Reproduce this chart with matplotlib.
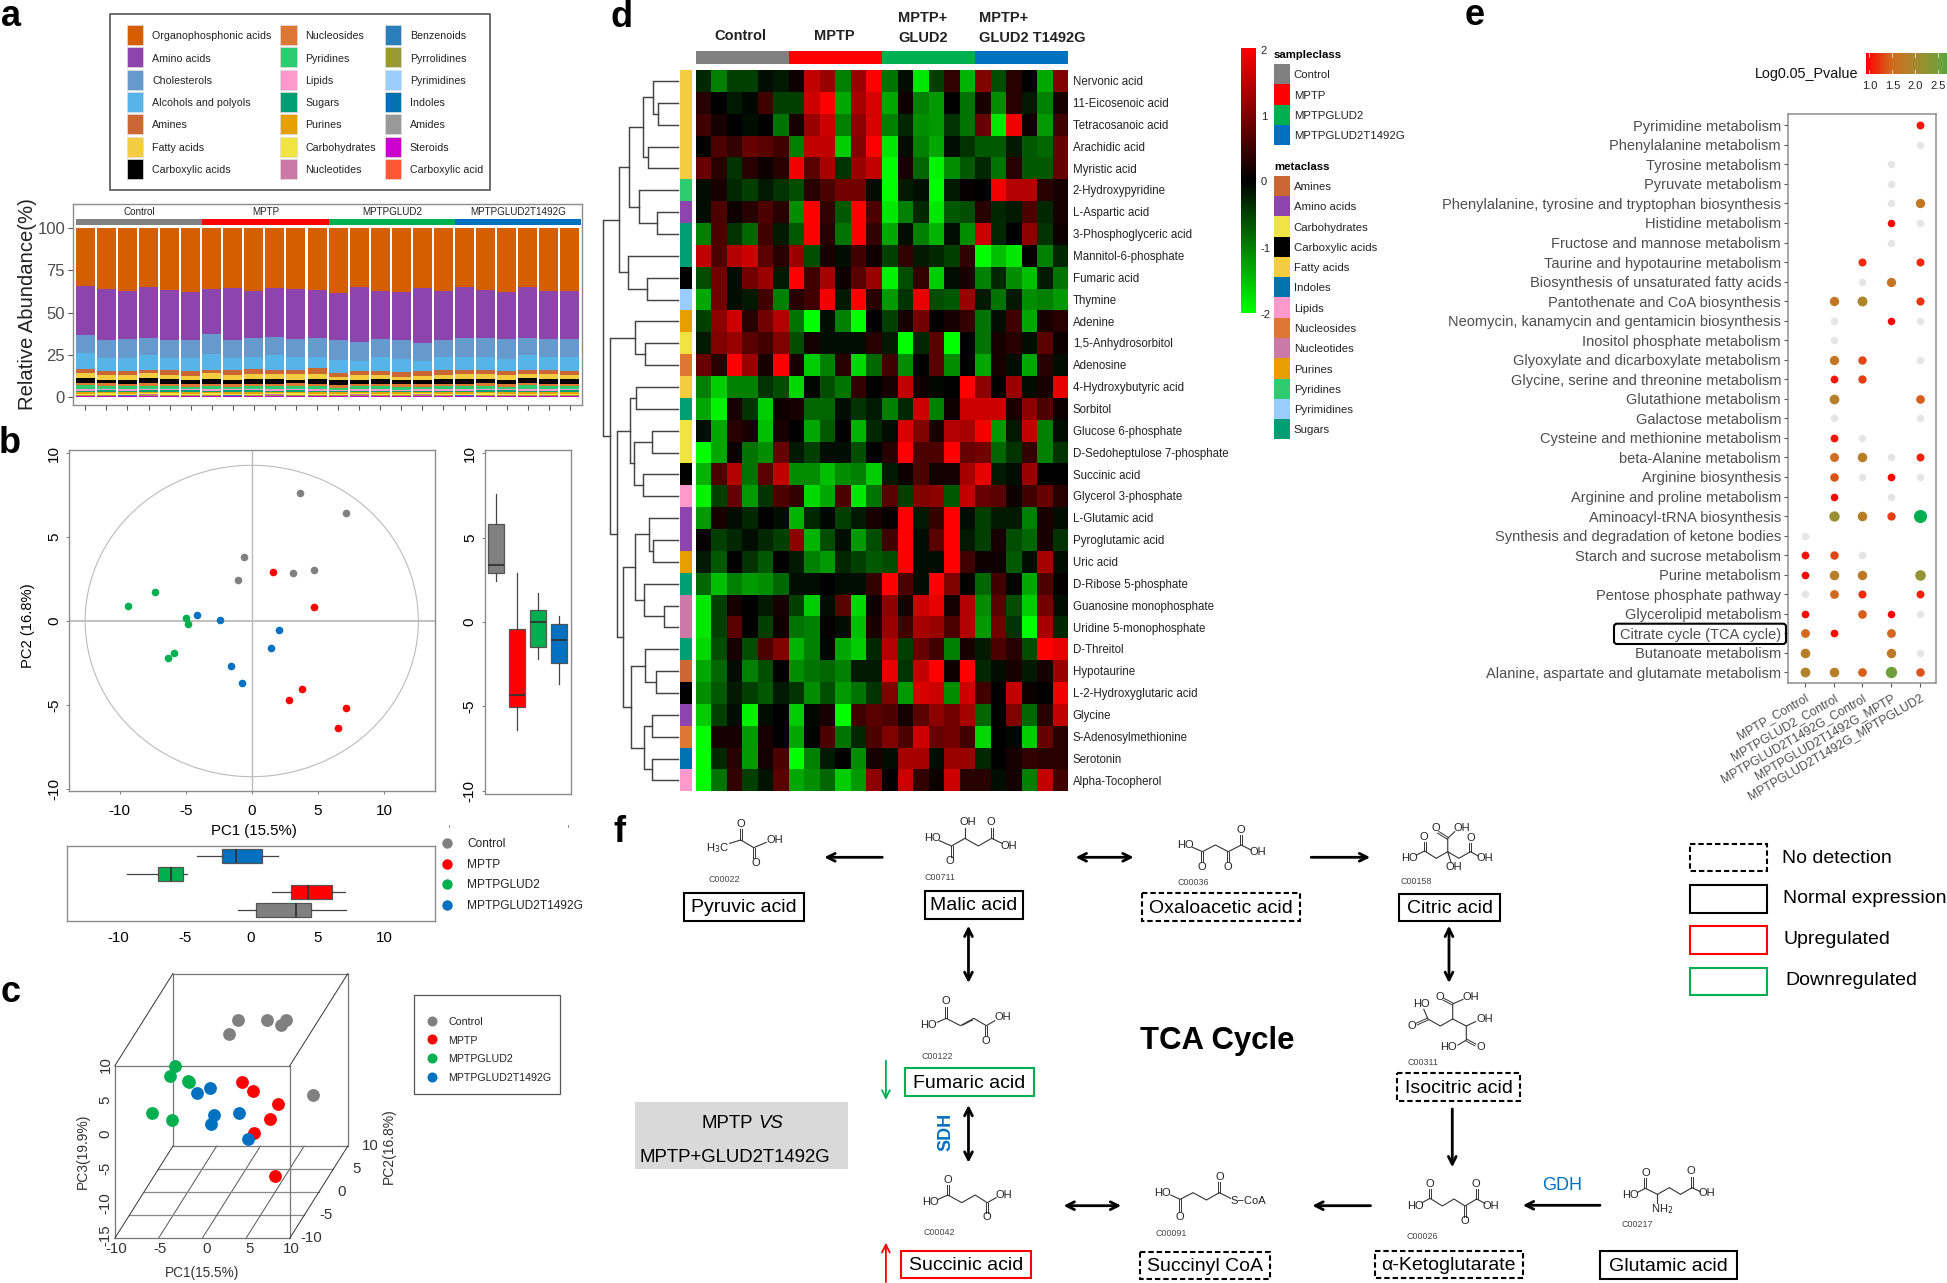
import numpy as np
import matplotlib
matplotlib.use("Agg")
import matplotlib.pyplot as plt
from matplotlib.colors import LinearSegmentedColormap
from matplotlib.patches import Rectangle, Ellipse, FancyBboxPatch, FancyArrowPatch

plt.rcParams['font.family'] = ['Liberation Sans', 'DejaVu Sans']
plt.rcParams['axes.unicode_minus'] = False

W, H = 1947, 1283
DPI = 100
GROUPS = ["Control", "MPTP", "MPTPGLUD2", "MPTPGLUD2T1492G"]
GCOL = ["#808080", "#FF0000", "#00B050", "#0070C0"]

# ---------------- panel a data ----------------
A_CATS = ["Organophosphonic acids", "Amino acids", "Cholesterols", "Alcohols and polyols", "Amines", "Fatty acids",
          "Carboxylic acids", "Nucleosides", "Pyridines", "Lipids", "Sugars", "Purines", "Carbohydrates", "Nucleotides",
          "Benzenoids", "Pyrrolidines", "Pyrimidines", "Indoles", "Amides", "Steroids", "Carboxylic acid"]
A_COLS = ["#D55E00", "#8E44AD", "#6699CC", "#56B4E9", "#CC6633", "#F4CC3F", "#000000", "#DD7733", "#2ECC71", "#FF99CC",
          "#009E73", "#E69F00", "#F0E442", "#CC79A7", "#2A7FBA", "#999933", "#99CCFF", "#0072B2", "#999999", "#CC00CC",
          "#FF5733"]
organo = [34.3,35.8,37.2,34.7,36.6,37.6, 35.8,35.2,36.8,35.8,35.8,36.8, 38.6,35.0,37.2,37.8,35.4,37.2, 34.9,36.6,37.4,35.0,37.4,36.8]
amino = [29.3,29.9,28.5,30.6,29.4,28.4, 27.0,30.5,28.3,28.8,29.7,28.7, 28.1,32.5,28.5,28.5,32.9,29.1, 29.9,28.5,27.6,29.8,28.5,28.5]
chol = [10.7,10.9,10.9,10.1,10.8,10.6, 11.5,10.5,11.1,10.8,10.7,11.1, 11.5,11.3,10.9,11.5,10.5,10.3, 11.0,11.5,11.6,10.2,10.7,10.9]
alco = [9.3,7.2,7.6,8.8,7.4,7.6, 9.5,7.4,7.0,8.8,7.4,6.6, 7.8,6.0,8.0,7.7,6.0,7.6, 7.8,7.6,7.0,8.6,7.6,8.0]
amine = [2.4,2.3,2.8,2.0,2.8,2.8, 2.3,2.6,3.0,2.8,2.9,3.4, 2.6,2.6,2.6,3.0,2.6,2.8, 2.4,2.6,2.6,2.4,2.6,2.6]
fatty = [3.0,3.0,2.5,3.0,2.5,2.5, 3.0,3.0,3.1,2.5,3.0,3.1, 2.0,2.5,2.5,2.0,2.5,2.5, 2.8,2.7,3.0,2.6,2.7,2.6]
carbx = [3.0,2.2,2.5,3.0,2.6,2.5, 3.0,2.5,2.5,3.0,2.2,2.8, 2.6,2.6,2.6,2.6,2.6,2.8, 2.8,2.5,2.2,2.8,2.8,2.5]
nucls = [1.4,1.6,1.5,1.3,1.6,1.5, 1.4,1.5,1.6,1.3,1.6,1.5, 1.6,1.5,1.6,1.5,1.5,1.6, 1.3,1.6,1.5,1.4,1.6,1.5]
pyrid = [2.2,1.6,1.7,2.0,1.6,1.6, 1.8,1.6,1.7,2.0,1.9,1.7, 1.5,1.6,1.7,1.5,1.5,1.6, 1.9,2.0,1.6,2.3,1.8,1.7]
lipid = [0.8,0.8,0.9,0.8,0.8,0.7, 0.9,0.7,0.8,0.9,0.7,0.8, 0.6,0.8,0.7,0.7,0.8,0.8, 1.0,0.8,0.7,0.9,0.7,0.8]
sugar = [0.8,0.8,0.7,0.7,0.8,0.8, 0.7,0.9,0.8,0.7,0.8,0.8, 0.7,0.7,0.8,0.8,0.7,0.8, 0.7,0.8,0.8,0.7,0.8,0.8]
purin = [1.0,1.0,1.0,1.1,1.0,1.0, 1.0,1.0,1.0,0.9,1.0,1.0, 0.8,0.9,1.0,0.9,0.9,1.0, 1.0,1.0,1.0,1.0,1.0,1.0]
carbo = [0.6,0.7,0.6,0.6,0.7,0.6, 0.7,0.6,0.6,0.6,0.7,0.6, 0.6,0.6,0.6,0.6,0.6,0.6, 0.6,0.7,0.6,0.6,0.6,0.6]
nuctd = [0.3,0.3,0.3,0.3,0.3,0.3, 0.3,0.3,0.3,0.4,0.3,0.3, 0.3,0.3,0.3,0.3,0.3,0.3, 0.3,0.3,0.3,0.3,0.3,0.3]
benz = [0.2,0.2,0.2,0.2,0.2,0.2, 0.2,0.2,0.2,0.2,0.2,0.2, 0.2,0.3,0.2,0.2,0.3,0.2, 0.2,0.2,0.2,0.2,0.2,0.2]
pyrro = [0.2,0.2,0.1,0.2,0.2,0.2, 0.2,0.1,0.2,0.2,0.2,0.2, 0.2,0.2,0.2,0.2,0.2,0.2, 0.1,0.2,0.2,0.2,0.2,0.2]
pyrim = [0.2,0.2,0.2,0.2,0.2,0.2, 0.2,0.2,0.2,0.2,0.2,0.2, 0.2,0.2,0.2,0.2,0.2,0.2, 0.2,0.2,0.2,0.2,0.2,0.2]
indol = [0.1,0.1,0.1,0.2,0.1,0.1, 0.1,0.1,0.1,0.1,0.1,0.1, 0.1,0.2,0.1,0.1,0.2,0.1, 0.1,0.1,0.1,0.1,0.1,0.1]
amide = [0.1,0.1,0.1,0.1,0.1,0.1, 0.1,0.1,0.1,0.1,0.1,0.1, 0.1,0.1,0.1,0.1,0.1,0.1, 0.1,0.1,0.1,0.1,0.1,0.1]
stero = [0.1,0.1,0.1,0.1,0.1,0.1, 0.1,0.1,0.1,0.1,0.1,0.1, 0.1,0.1,0.1,0.1,0.1,0.1, 0.1,0.1,0.1,0.1,0.1,0.1]
cacid = [0.1,0.1,0.1,0.1,0.1,0.1, 0.1,0.1,0.1,0.1,0.1,0.1, 0.1,0.1,0.1,0.1,0.1,0.1, 0.1,0.1,0.1,0.1,0.1,0.1]
A_VALUES = [organo, amino, chol, alco, amine, fatty, carbx, nucls, pyrid, lipid, sugar, purin, carbo, nuctd, benz,
            pyrro, pyrim, indol, amide, stero, cacid]

# ---------------- panel b / c data ----------------
PC1 = [[3.68, 7.15, -0.55, -1.04, 3.15, 4.69],
       [1.59, 4.72, 3.82, 2.81, 7.12, 6.54],
       [-9.35, -7.35, -4.98, -4.80, -5.85, -6.34],
       [-4.11, -2.37, 2.05, 1.42, -1.59, -0.75]]
PC2 = [[7.62, 6.45, 3.83, 2.46, 2.84, 3.02],
       [2.90, 0.83, -4.03, -4.68, -5.20, -6.39],
       [0.87, 1.71, 0.18, -0.18, -1.88, -2.18],
       [0.38, 0.04, -0.52, -1.63, -2.66, -3.69]]
PC3 = [[4.85, -5.20, 7.39, 6.23, 8.10, 7.20],
       [-8.32, -13.16, 2.31, 4.10, 1.30, -0.07],
       [-4.06, -5.68, 1.04, 1.10, 4.50, 3.34],
       [-0.88, -5.10, -6.95, -2.44, 1.83, -1.35]]
# whisker low, q1, median, q3, whisker high
BOX_PC2 = [[2.45, 2.9, 3.4, 5.8, 7.6], [-6.4, -5.05, -4.3, -0.4, 2.9], [-2.2, -1.47, 0.0, 0.7, 1.7], [-3.7, -2.4, -1.08, -0.1, 0.35]]
BOX_PC1 = [[-1.0, 0.35, 3.4, 4.5, 7.15], [1.6, 3.0, 4.25, 6.07, 7.1], [-9.35, -7.0, -6.05, -5.15, -4.8], [-4.1, -2.15, -1.1, 0.85, 2.05]]

# ---------------- panel d data ----------------
METABOLITES = ["Nervonic acid", "11-Eicosenoic acid", "Tetracosanoic acid", "Arachidic acid", "Myristic acid",
               "2-Hydroxypyridine", "L-Aspartic acid", "3-Phosphoglyceric acid", "Mannitol-6-phosphate", "Fumaric acid",
               "Thymine", "Adenine", "1,5-Anhydrosorbitol", "Adenosine", "4-Hydroxybutyric acid", "Sorbitol",
               "Glucose 6-phosphate", "D-Sedoheptulose 7-phosphate", "Succinic acid", "Glycerol 3-phosphate",
               "L-Glutamic acid", "Pyroglutamic acid", "Uric acid", "D-Ribose 5-phosphate", "Guanosine monophosphate",
               "Uridine 5-monophosphate", "D-Threitol", "Hypotaurine", "L-2-Hydroxyglutaric acid", "Glycine",
               "S-Adenosylmethionine", "Serotonin", "Alpha-Tocopherol"]
META_CLASS = ["Fatty acids"]*5 + ["Pyridines", "Amino acids", "Sugars", "Sugars", "Carboxylic acids", "Pyrimidines",
              "Purines", "Carbohydrates", "Nucleosides", "Fatty acids", "Sugars", "Carbohydrates", "Carbohydrates",
              "Carboxylic acids", "Lipids", "Amino acids", "Amino acids", "Purines", "Sugars", "Nucleotides", "Nucleotides",
              "Sugars", "Amines", "Carboxylic acids", "Amino acids", "Nucleosides", "Indoles", "Lipids"]
HEAT = [
 [-0.3,-1.0,-0.5,-0.5,-0.1,-0.2,0.1,1.5,1.2,-1.0,1.2,2.0,-0.9,-0.1,-1.8,-0.5,0.4,-1.4,1.0,-0.6,0.3,0.0,-1.3,1.0],
 [0.3,0,-0.2,-0.05,0.5,-0.5,-0.5,1.6,2,-1.3,1.3,1.7,-1.3,0.1,-1.0,-1.2,0,-0.9,0.2,-1.1,0.3,-0.2,-1.0,0.2],
 [0.5,0.2,0,-0.1,0,-0.9,0.2,1.2,1.6,-1.0,1.1,1.7,-1.0,-0.3,-1.1,-1.2,-0.4,-0.9,0.8,-1.8,1.9,0.1,-1.2,0.5],
 [0,0.6,0.4,0.8,0.7,0.5,-1.0,1.5,1.5,-1.6,1.0,2.0,-1.8,-0.1,-1.0,-1.3,-0.1,-0.4,-0.7,-0.7,-0.2,-0.7,-0.8,0.8],
 [0.8,0.3,-0.4,0.3,0.1,0.3,1.9,0.7,1.3,-0.4,1.2,1.5,-2,0.2,-0.8,-1.9,-1.1,-0.7,-0.3,-0.9,0.3,-0.7,-0.7,0.8],
 [-0.1,0.2,-0.3,-0.5,-0.2,-0.4,-0.6,0.3,0.6,0.9,0.9,-0.1,-2,-0.2,-0.1,-2,-0.2,0.05,0,1.9,1.4,1.4,0.3,0.2],
 [-0.1,0.6,0.1,0.3,0.6,0.3,-1.1,2,0.4,-0.7,2,0.6,-1.8,-1,-0.3,-1.8,-0.7,-0.6,0.3,-0.3,-0.2,0.6,-0.3,0.2],
 [-1,0.6,-0.4,-0.8,0.5,-0.2,-0.7,2,0.3,-0.9,2,0.4,-1.3,-0.1,-1,-1.4,-0.1,-1.1,1.6,-0.3,0,1.1,-0.4,0.1],
 [1.5,0.6,1.4,1.6,0.7,0.3,1.2,-0.6,0.2,-0.1,0.5,0.1,-0.5,0.4,-0.2,-0.3,-0.5,0.4,-2,-1.5,-1.8,0,-1,-0.3],
 [-0.6,0.9,-0.1,0.9,1.2,-0.2,2,0.5,1.3,0.1,0.7,1.2,-1.9,-0.6,0.4,-1.6,-0.1,0.2,-1,-0.3,-1.1,-1.5,-0.2,-0.9],
 [-1.3,0.9,-0.1,-0.2,0.5,-1,0.3,0.5,1.9,-0.2,2,0.3,-1.2,-0.4,1.8,-0.6,-0.7,1.2,-0.2,-0.9,-0.2,-1.1,-1,-1.2],
 [-0.5,1.1,1.6,0.3,0.9,1.4,-0.9,-2,-0.1,-1,-2,0,-0.5,0.2,0.9,0,0.2,0.4,-0.9,-0.1,0.5,-1.3,0.2,0.3],
 [-0.2,1,1.2,0.7,0.5,1,-0.6,0.15,-0.1,-0.1,-0.1,0.3,-0.2,-2,-0.3,0.7,-2,0,-0.9,0.2,0.3,-0.1,0.7,0.1],
 [0.8,0.3,2,1.2,0.2,2,0.2,-1.6,-1,0.3,-1.7,-0.8,0.5,-1.1,0,0.7,-1.1,0,-1.3,0.2,-0.1,-1.3,0.3,-0.1],
 [-1,-1.6,-1,-1,-0.4,-0.6,-1.7,-0.05,-0.6,-0.9,0.4,0,0.2,1.5,0.1,-0.05,0,2,1.1,0,1.2,-0.1,0.2,1.8],
 [-1.3,-1.9,0.2,-0.4,-1.6,0.1,0.2,-0.8,-0.8,-0.1,-0.4,-0.2,-1,-0.3,1.6,-1,0.1,1.6,1.6,1.6,0.2,1.1,0.6,0.1],
 [-0.1,-1.3,0.3,0.2,-1.5,0.2,0,-1.3,-0.7,0,-1.4,-0.3,-0.1,1.7,1,0.2,1.4,1.3,1.9,-1.2,-0.2,1.5,-1,-0.1],
 [-2,-1.3,0.1,-0.9,-1.1,0.8,-0.2,-0.5,-0.1,-0.1,-0.6,0,0.3,2,0.6,0.6,2,0.8,0.9,-0.8,-0.4,0.4,-1,-0.4],
 [-1.4,0.6,1.4,-0.9,0.7,1.5,-1.1,-1.1,-1.5,-1.1,-1,-1.6,-0.2,0.1,0.6,0.15,0.15,1.3,1.8,-0.2,-0.1,1.2,0,0],
 [-1.9,-0.5,0.8,-1.2,-0.4,0.6,0.4,-1.7,-1.3,0.6,-1.8,-0.9,0.7,-0.5,1,1.1,-0.7,1.5,0.8,0.7,0.1,0.5,0.8,0.3],
 [-1.2,0.2,-0.1,-0.3,0,-0.1,-1.4,-0.3,-0.05,-0.5,-0.2,0.2,0.05,2,-0.2,0.4,2,-0.1,-0.5,-0.2,-0.2,-1,0.2,-0.1],
 [0.05,-0.5,-0.3,-0.1,-0.3,-0.5,1.1,-1.4,-0.6,-0.1,-1.2,-0.6,0.5,2,-0.1,0.7,2,-0.2,-0.5,0.2,-0.6,-0.8,0.2,-0.4],
 [-0.2,-0.7,0,-0.4,-0.7,0,-0.2,-1,-1.2,-0.3,-0.5,-0.7,-0.6,2,-0.1,-0.1,2,0.5,0.1,0.1,-0.7,-0.1,1.3,-0.1],
 [-0.8,-1.5,-1,-1.2,-1.1,-0.8,-0.1,-0.1,0,-0.1,-0.1,0.4,2,0.6,-0.1,2,1,0,-0.8,0.5,-0.05,-1.3,0.6,0.05],
 [-1.8,-0.5,0.2,0,-0.2,0.2,-0.5,-1.6,-0.1,0.7,-1.7,0.1,1.1,0.2,1.6,1.8,0.15,1.4,-1.1,0.7,-0.6,-1.6,0.9,-0.1],
 [-1.8,-0.5,0.7,0,-0.5,0.1,-0.9,-1,0.05,-0.1,-1.5,0.2,1.2,0.5,1.3,1.2,0.6,1.4,-1.2,0.9,-0.4,-2,1.3,-0.3],
 [-1.7,-0.6,0.2,-0.6,0.6,1,-1.4,-1,-0.05,-1.3,-1.6,-0.3,1.4,-0.5,0.8,0.5,-1,0.2,-0.2,0.6,0.3,-0.6,2,1.8],
 [-1.3,-0.8,-0.1,-1,-0.6,0,-1.1,-0.9,-0.8,-1,-0.2,-0.2,1.8,-0.4,1.5,2,0.1,2,-0.3,-0.1,0.2,-0.2,0.2,1.2],
 [-1.1,-0.7,-0.2,-0.5,-0.7,-0.2,-0.4,-1.1,-0.6,-1.2,-0.9,-0.4,1,-1.2,1.7,1.6,-1.1,1.6,0.5,0,1.5,0.1,0,1.9],
 [-1.6,-0.5,-0.1,-1.9,-0.1,0,-1.6,-0.05,0.2,-2,0.5,0.7,0.6,0.15,0.7,1.1,0.9,1.3,-0.8,0,1,-0.8,0.3,1.5],
 [-2,0.2,0.15,-1.2,0.2,0,-1.3,-0.02,0.6,-0.9,-0.3,0.6,1,0.6,1.6,0.8,0.9,0.5,-1.7,0,-0.05,-1.6,0.8,0.3],
 [-2,-0.3,0.3,-1.2,0.15,0.6,-2,-1,-0.2,0,-1.1,0.2,-0.1,1.3,1.3,-0.1,1.2,1.2,-0.3,0,0.2,0.4,0.3,0.3],
 [-2,-0.9,0.4,-0.5,-0.15,0.7,-1.3,-1.1,-0.8,-1.6,-1.2,1.1,0,1.6,0.4,0.1,1.6,0.3,0.3,-0.1,0.15,-1,1.5,0.5],
]
# nested (height, left, right); leaves are row indices
TREE = (75.0,
        (59.7,
         (49.0,
          (35.7, (25.0, 0, (20.0, 1, 2)), (30.7, 3, 4)),
          (39.0, 5, (21.0, 6, 7))),
         (50.0, 8, (31.7, 9, 10))),
        (68.3,
         (43.3, 11, (33.3, 12, 13)),
         (61.0,
          (48.3, (42.3, 14, 15), (44.3, (26.0, 16, 17), (35.0, 18, 19))),
          (55.7,
           (43.3, (29.3, 20, (25.7, 21, 22)), (34.3, 23, (14.3, 24, 25))),
           (47.7, (33.3, 26, (22.3, 27, 28)), (34.3, (26.0, 29, 30), (26.7, 31, 32)))))))
META_LEGEND = ["Amines", "Amino acids", "Carbohydrates", "Carboxylic acids", "Fatty acids", "Indoles", "Lipids",
               "Nucleosides", "Nucleotides", "Purines", "Pyridines", "Pyrimidines", "Sugars"]

# ---------------- panel e data ----------------
PATHWAYS = ["Pyrimidine metabolism", "Phenylalanine metabolism", "Tyrosine metabolism", "Pyruvate metabolism",
            "Phenylalanine, tyrosine and tryptophan biosynthesis", "Histidine metabolism", "Fructose and mannose metabolism",
            "Taurine and hypotaurine metabolism", "Biosynthesis of unsaturated fatty acids", "Pantothenate and CoA biosynthesis",
            "Neomycin, kanamycin and gentamicin biosynthesis", "Inositol phosphate metabolism",
            "Glyoxylate and dicarboxylate metabolism", "Glycine, serine and threonine metabolism", "Glutathione metabolism",
            "Galactose metabolism", "Cysteine and methionine metabolism", "beta-Alanine metabolism", "Arginine biosynthesis",
            "Arginine and proline metabolism", "Aminoacyl-tRNA biosynthesis", "Synthesis and degradation of ketone bodies",
            "Starch and sucrose metabolism", "Purine metabolism", "Pentose phosphate pathway", "Glycerolipid metabolism",
            "Citrate cycle (TCA cycle)", "Butanoate metabolism", "Alanine, aspartate and glutamate metabolism"]
COMPARE = ["MPTP_Control", "MPTPGLUD2_Control", "MPTPGLUD2T1492G_Control", "MPTPGLUD2T1492G_MPTP", "MPTPGLUD2T1492G_MPTPGLUD2"]
NA = -1  # detected, but drawn grey (no significance)
_ = None
PVAL = [
 [_,_,_,_,1.12], [_,_,_,_,NA], [_,_,_,NA,_], [_,_,_,NA,_], [_,_,_,NA,1.7], [_,_,_,1.0,NA], [_,_,_,NA,_],
 [_,_,1.2,_,1.2], [_,_,NA,1.65,_], [_,1.7,1.95,_,1.25], [_,NA,_,1.0,NA], [_,NA,_,_,_], [_,1.7,1.35,_,NA],
 [_,1.1,1.3,_,_], [_,1.85,_,_,1.45], [_,NA,_,_,NA], [_,1.1,NA,_,_], [_,1.55,1.8,NA,1.15], [_,1.4,NA,1.05,NA],
 [_,1.0,_,NA,_], [_,2.1,1.8,1.3,3.2], [NA,_,_,_,_], [1.1,1.35,NA,_,_], [1.05,1.8,1.75,_,2.2], [NA,1.5,1.2,_,1.15],
 [1.05,_,1.45,1.0,NA], [1.5,1.05,_,1.5,_], [1.8,_,_,1.75,NA], [1.9,1.8,1.45,2.5,1.4],
]

# ---------------- figure ----------------
fig = plt.figure(figsize=(W/DPI, H/DPI), dpi=DPI, facecolor='white')

def axpx(x0, y0, x1, y1, **kw):
    return fig.add_axes([x0/W, 1-y1/H, (x1-x0)/W, (y1-y0)/H], **kw)

def style_frame(ax, col='#8C8C8C', lw=1.4):
    for s in ax.spines.values():
        s.set_color(col)
        s.set_linewidth(lw*0.72)

ov = fig.add_axes([0, 0, 1, 1], zorder=20)
ov.set_xlim(0, W)
ov.set_ylim(H, 0)
ov.axis('off')

def T(x, y, s, size=8, ha='left', va='center', **kw):
    if kw.get('rotation') == 90:
        x += 1.5
    else:
        y += 1.2
    return ov.text(x, y, s, fontsize=size, ha=ha, va=va, **kw)

def R(x0, y0, x1, y1, **kw):
    ov.add_patch(Rectangle((x0, y0), x1-x0, y1-y0, **kw))

# horizontal pixel conversion for the left column and the two pathway halves
XL = lambda z: z/2.613
X9 = lambda z: 610 + z/2.24
X10 = lambda z: 1300 + z/2.423

for lab, x, y in [("a", 11.5, 15), ("b", 9.6, 442), ("c", 10.7, 991), ("d", 622, 16), ("e", 1475, 14), ("f", 619, 831)]:
    T(x, y, lab, size=26, weight='bold', ha='center')

# ---- panel a ----
R(XL(287), 14, XL(1281), 189.7, fc='white', ec='#555555', lw=1.2)
col_swatch = [XL(331), XL(731), XL(1005)]
col_text = [XL(398), XL(798), XL(1071)]
A_ROWS = [35, 57.3, 79.7, 102, 124.3, 146.7, 169]
for i, (c, col) in enumerate(zip(A_CATS, A_COLS)):
    cc, rr = i // 7, i % 7
    R(col_swatch[cc], A_ROWS[rr]-10, col_swatch[cc]+16.8, A_ROWS[rr]+10, fc=col, ec='#DDDDDD', lw=0.5)
    T(col_text[cc], A_ROWS[rr], c, size=7.7, color='#222222')

ax = axpx(XL(190), 204, XL(1522), 405)
xs = np.arange(1, 25)
vals = np.array(A_VALUES, float)
vals = vals / vals.sum(axis=0) * 100
bottom = np.full(24, 100.0)
for v, col in zip(vals, A_COLS):
    bottom = bottom - v
    ax.bar(xs, v, 0.9, bottom=bottom, color=col, lw=0)
ax.set_xlim(0.402, 24.6)
ax.set_ylim(-4.9, 114.4)
for i in range(4):
    x0 = 0.55 + i*6
    ax.add_patch(Rectangle((x0, 101.9), 6, 3.4, fc=GCOL[i], lw=0))
    ax.text(x0+3, 109.5, GROUPS[i], ha='center', va='center', fontsize=7.1, color='#222222')
ax.set_xticks(xs)
ax.set_xticklabels([])
ax.set_yticks([0, 25, 50, 75, 100])
ax.tick_params(axis='both', length=3.5, width=0.8, color='#555555', labelsize=12, labelcolor='#4D4D4D', pad=2)
style_frame(ax)
T(XL(65)+1, 304, "Relative Abundance(%)", size=14.6, rotation=90, ha='center', color='#222222')

# ---- panel b ----
ax = axpx(XL(180), 450, XL(1136), 791.3)
ax.set_xlim(-13.83, 13.84)
ax.set_ylim(-10.14, 10.18)
ax.axhline(0, color='#BBBBBB', lw=1.3)
ax.axvline(0, color='#BBBBBB', lw=1.0)
ax.add_patch(Ellipse((0, 0), 25.2, 18.54, fc='none', ec='#BBBBBB', lw=0.8))
for i in range(4):
    ax.scatter(PC1[i], PC2[i], s=30, color=GCOL[i], lw=0, zorder=3)
ax.set_xticks([-10, -5, 0, 5, 10])
ax.set_yticks([-10, -5, 0, 5, 10])
ax.tick_params(axis='x', length=2.5, width=0.7, labelsize=11, pad=7, color='#777777')
ax.tick_params(axis='y', length=2.5, width=0.7, labelsize=11, pad=3, color='#777777')
for t in ax.get_yticklabels():
    t.set_rotation(90)
    t.set_va('center')
style_frame(ax)
T(XL(70), 626, "PC2 (16.8%)", size=10.6, rotation=90, ha='center')
T(XL(663), 830, "PC1 (15.5%)", size=10.8, ha='center')

def boxes(ax, stats, orientation):
    sts = [dict(whislo=s[0], q1=s[1], med=s[2], q3=s[3], whishi=s[4], fliers=[]) for s in stats]
    bp = ax.bxp(sts, positions=[1, 2, 3, 4], widths=0.77, patch_artist=True, showcaps=False, showfliers=False,
                orientation=orientation,
                medianprops=dict(color='#333333', lw=1.3),
                whiskerprops=dict(color='#444444', lw=0.9),
                boxprops=dict(edgecolor='#555555', lw=0.9))
    for b, c in zip(bp['boxes'], GCOL):
        b.set_facecolor(c)

ax = axpx(XL(1266), 450, XL(1491), 794)
boxes(ax, BOX_PC2, 'vertical')
ax.set_xlim(0.43, 4.57)
ax.set_ylim((622-794)/16.88, (622-450)/16.88)
ax.set_xticks([])
ax.set_yticks([-10, -5, 0, 5, 10])
ax.set_yticklabels(['-10', '-5', '0', '5', '10'], rotation=90, va='center', fontsize=11)
ax.tick_params(axis='y', length=2.5, width=0.7, pad=3, color='#777777')
style_frame(ax)

ax = axpx(XL(174), 845.7, XL(1136), 921)
boxes(ax, BOX_PC1, 'horizontal')
ax.set_xlim((174-656)/34.75, (1136-656)/34.75)
ax.set_ylim(0.41, 4.59)
ax.set_yticks([])
ax.set_xticks([-10, -5, 0, 5, 10])
ax.set_xticklabels(['-10', '-5', '0', '5', '10'], fontsize=10.8)
ax.tick_params(axis='x', length=0, pad=7)
style_frame(ax)

for g, c, y in zip(GROUPS, GCOL, [843, 863.7, 884, 904.7]):
    ov.scatter([XL(1169)], [y], s=56, color=c, lw=0)
    T(XL(1220), y, g, size=8.6, color='#222222')
ov.plot([XL(1172)]*2, [825, 827], color='#777777', lw=0.6)
ov.plot([XL(1485)]*2, [825, 827], color='#777777', lw=0.6)

# ---- panel c ----
KX, KZ = 7.6/22.85, 13.85/20.7
def proj(x, y, z):
    return np.asarray(x) + KX*(np.asarray(y)+10), np.asarray(z) + KZ*(np.asarray(y)+10)

ax = axpx(XL(300), 973.7, XL(909), 1238.3)
ax.set_xlim(-10, -10 + 609/22.85)
ax.set_ylim(-15, -15 + 794/20.7)
ax.axis('off')
def seg(p, q, col='#777777', lw=0.9):
    a = proj(*p); b = proj(*q)
    ax.plot([a[0], b[0]], [a[1], b[1]], color=col, lw=lw, clip_on=False)
for v in (-5, 0, 5):
    seg((v, -10, -15), (v, 10, -15), '#555555', 0.7)
    seg((-10, v, -15), (10, v, -15), '#888888', 0.9)
for y in (-10, 10):
    seg((-10, y, -15), (10, y, -15))
    seg((-10, y, 10), (10, y, 10))
    seg((-10, y, -15), (-10, y, 10))
    seg((10, y, -15), (10, y, 10))
for x in (-10, 10):
    seg((x, -10, -15), (x, 10, -15), '#333333', 0.7)
    seg((x, -10, 10), (x, 10, 10), '#333333', 0.7)
for i in range(4):
    px_, pz_ = proj(PC1[i], PC2[i], PC3[i])
    ax.scatter(px_, pz_, s=85, color=GCOL[i], lw=0, zorder=3, clip_on=False)

def Z3(zx, zy):
    return XL(zx), 930 + zy/3
for s, zy in [("10", 405), ("5", 510), ("0", 612), ("-5", 715), ("-10", 820)]:
    x, y = Z3(272, zy)
    T(x, y, s, size=10.8, rotation=90, ha='center', color='#333333')
x, y = Z3(272, 915)
T(x, y, "-15", size=10.8, rotation=90, ha='center', color='#333333')
for s, zx in [("-10", 305), ("-5", 418), ("0", 540), ("5", 653), ("10", 762)]:
    x, y = Z3(zx, 952)
    T(x, y, s, size=10.8, ha='center', color='#333333')
for s, zx, zy in [("-10", 813, 920), ("-5", 851, 851), ("0", 893, 782), ("5", 932, 713), ("10", 968, 645)]:
    x, y = Z3(zx, zy)
    T(x, y, s, size=10.8, ha='center', color='#333333')
R(XL(984), 930+620/3, XL(992), 930+670/3, fc='white', ec='none', zorder=5)
x, y = Z3(529, 1024); T(x, y, "PC1(15.5%)", size=9.8, ha='center', color='#333333')
x, y = Z3(212, 665); T(x, y, "PC3(19.9%)", size=10, rotation=90, ha='center', color='#333333')
x, y = Z3(1012, 648); T(x, y, "PC2(16.8%)", size=10, rotation=90, ha='center', color='#333333', zorder=6)

R(XL(1081), 995.3, XL(1463), 1094, fc='white', ec='#555555', lw=0.9)
for g, c, y in zip(GROUPS, GCOL, [1020.7, 1039.3, 1058, 1076.7]):
    ov.scatter([XL(1128)], [y], s=52, color=c, lw=0)
    T(XL(1172), y, g, size=7.7, color='#222222')

# ---- panel d ----
cmap_d = LinearSegmentedColormap.from_list('gbr', ['#00FF00', '#000000', '#FF0000'])
ax = axpx(695.7, 70, 1068.3, 791.3)
ax.pcolormesh(np.arange(25), np.arange(34), np.array(HEAT), cmap=cmap_d, vmin=-2, vmax=2)
ax.set_ylim(33, 0)
ax.axis('off')

ax = axpx(695.7, 50.7, 1068.3, 64)
ax.set_xlim(0, 24); ax.set_ylim(0, 1); ax.axis('off')
for i in range(4):
    ax.add_patch(Rectangle((i*6, 0), 6, 1, fc=GCOL[i], lw=0))

meta_col = dict(zip(A_CATS, A_COLS))
ax = axpx(680, 70, 691.7, 791.3)
ax.set_xlim(0, 1); ax.set_ylim(33, 0); ax.axis('off')
for r, m in enumerate(META_CLASS):
    ax.add_patch(Rectangle((0, r), 1, 1, fc=meta_col[m], lw=0))

ax = axpx(600, 70, 678.3, 791.3)
ax.set_xlim(78.3, 0); ax.set_ylim(33, 0); ax.axis('off')
def dend(node):
    if isinstance(node, int):
        return 0.0, node + 0.5
    h, l, r = node
    hl, yl = dend(l)
    hr, yr = dend(r)
    ax.plot([hl, h, h, hr], [yl, yl, yr, yr], color='#444444', lw=1.05, solid_joinstyle='miter', clip_on=False)
    return h, (yl + yr) / 2
dend(TREE)

for r, name in enumerate(METABOLITES):
    T(1072.7, 70 + (r+0.5)*21.857, name, size=8.3, color='#222222')

T(740, 35, "Control", size=10.5, weight='bold', ha='center', color='#222222')
T(834.3, 35, "MPTP", size=10.5, weight='bold', ha='center', color='#222222')
T(898.3, 17.3, "MPTP+", size=10.5, weight='bold', color='#222222')
T(898.3, 36.7, "GLUD2", size=10.5, weight='bold', color='#222222')
T(979, 17.3, "MPTP+", size=10.5, weight='bold', color='#222222')
T(979, 36.7, "GLUD2 T1492G", size=10.5, weight='bold', color='#222222')

ax = axpx(1240.7, 48.3, 1255, 312.7)
ax.imshow(np.linspace(2, -2, 256)[:, None], aspect='auto', cmap=cmap_d, vmin=-2, vmax=2)
ax.axis('off')
for s, zy in [("2", 58), ("1", 257), ("0", 453), ("-1", 653), ("-2", 852)]:
    T(1220+122/3, 30 + zy/3, s, size=8, color='#222222')
T(1274, 54.3, "sampleclass", size=8.2, weight='bold')
for i, (g, c) in enumerate(zip(GROUPS, GCOL)):
    y0 = 64 + i*20.33
    R(1274, y0, 1290.3, y0+20.33, fc=c, lw=0)
    T(1293.7, y0+10.2, g, size=8.2, color='#222222')
T(1274, 165.7, "metaclass", size=8.2, weight='bold')
for i, m in enumerate(META_LEGEND):
    y0 = 175.7 + i*20.28
    R(1274, y0, 1290.3, y0+20.28, fc=meta_col[m], lw=0)
    T(1293.7, y0+10.1, m, size=8.2, color='#222222')

# ---- panel e ----
cmap_e = LinearSegmentedColormap.from_list('pv', [(0, '#FF0000'), (0.227, '#D2691E'), (0.4545, '#A88A2E'),
                                                  (0.682, '#70A03C'), (1, '#00B050')])
ax = axpx(1788, 113.7, 1936.3, 683.3)
for r, row in enumerate(PVAL):
    for c, v in enumerate(row):
        if v is None:
            continue
        if v == NA:
            col, d = '#E5E5E5', 7.2
        else:
            col, d = cmap_e((v-1)/2.2), 7.2 + (v-1)*2.4
        ax.scatter([c+1], [r+1], s=(d*0.72*1.05)**2, color=col, lw=0, zorder=3)
ax.set_xlim(0.407, 5.58)
ax.set_ylim(29.56, 0.406)
ax.set_yticks(np.arange(1, 30))
ax.set_yticklabels(PATHWAYS, fontsize=10.5, color='#4D4D4D')
ax.set_xticks(np.arange(1, 6))
ax.set_xticklabels(COMPARE, rotation=30, ha='right', va='top', rotation_mode='anchor', fontsize=8.8, color='#4D4D4D')
ax.tick_params(axis='both', length=3, width=0.8, color='#555555', pad=2)
ax.tick_params(axis='x', pad=3)
style_frame(ax, lw=1.5)
ov.add_patch(FancyBboxPatch((1614, 623.7), 172, 20.3, boxstyle='round,pad=0,rounding_size=3', fc='none', ec='black', lw=1.5))

ax = axpx(1866.3, 53.3, 1866.3 + (3.3-0.935)*46, 74)
ax.imshow(np.linspace(0, 1, 256)[None, :], aspect='auto', cmap=cmap_e, extent=(0.935, 3.3, 0, 1), vmin=0, vmax=1)
ax.set_yticks([])
ax.set_xticks([1.0, 1.5, 2.0, 2.5])
ax.set_xticklabels(['1.0', '1.5', '2.0', '2.5'], fontsize=8, color='#222222')
ax.tick_params(axis='x', length=0, pad=5)
for s in ax.spines.values():
    s.set_visible(False)
for v in (1.0, 1.5, 2.0, 2.5):
    ax.plot([v, v], [0, 0.2], color='white', lw=0.5)
    ax.plot([v, v], [0.8, 1], color='white', lw=0.5)
T(1858.3, 72.7, "Log0.05_Pvalue", size=10.4, ha='right', color='#111111')

# ---- panel f ----
def box(x0, y0, x1, y1, label, kind='solid', col='black', size=14):
    ls = (0, (2.6, 1.4)) if kind == 'dash' else '-'
    R(x0, y0, x1, y1, fc='none', ec=col, lw=1.5, ls=ls)
    if label:
        T((x0+x1)/2, (y0+y1)/2, label, size=size, ha='center', color='black')

box(X9(165), 892.7, X9(434), 920.7, "Pyruvic acid")
box(X9(705), 890.7, X9(926), 918.7, "Malic acid")
box(X9(1192), 893, X9(1545), 921, "Oxaloacetic acid", 'dash')
box(X9(660), 1068, X9(950), 1095.7, "Fumaric acid", col='#00B050')
box(X9(652), 1250.7, X9(943), 1278, "Succinic acid", col='#FF0000')
box(X9(1187), 1251.7, X9(1479), 1279.3, "Succinyl CoA", 'dash')
box(X10(241), 894, X10(484), 921, "Citric acid")
box(X10(234), 1073.3, X10(534), 1101.3, "Isocitric acid", 'dash')
box(X10(181), 1250.7, X10(540), 1278, "α-Ketoglutarate", 'dash')
box(X10(727), 1251, X10(1059), 1279, "Glutamic acid")
box(X10(946), 843.7, X10(1131), 871, "", 'dash')
box(X10(946), 885, X10(1131), 912.7, "")
box(X10(946), 926, X10(1131), 953.7, "", col='#FF0000')
box(X10(946), 967.7, X10(1131), 995, "", col='#00B050')
T(X10(1168), 857.3, "No detection", size=14)
T(X10(1170), 897.3, "Normal expression", size=14)
T(X10(1171), 938.3, "Upregulated", size=14)
T(X10(1177), 979.3, "Downregulated", size=14)
T(X9(1360), 1039.3, "TCA Cycle", size=22.4, weight='bold', ha='center')
R(X9(55), 1102.3, X9(534), 1169.3, fc='#D9D9D9', lw=0)
T(X9(205), 1122.7, "MPTP", size=13.4)
T(X9(333), 1122.7, "VS", size=13.4, style='italic')
T(X9(280), 1156, "MPTP+GLUD2T1492G", size=13.4, ha='center')
T(X9(750), 1132.3, "SDH", size=13, weight='bold', rotation=90, ha='center', color='#0070C0')
T(X10(636), 1184, "GDH", size=13, ha='center', color='#0070C0')

def arrow(p, q, style='->', col='black', lw=2.0, ms=14):
    ov.add_patch(FancyArrowPatch(p, q, arrowstyle=style, mutation_scale=ms, color=col, lw=lw, shrinkA=0, shrinkB=0))

arrow((X9(610), 857.3), (X9(480), 857.3))
arrow((X9(1043), 857.3), (X9(1173), 857.3), '<->')
arrow((X10(27), 857.3), (X10(170), 857.3))
arrow((X9(803), 925.7), (X9(803), 983), '<->')
arrow((X9(803), 1105), (X9(803), 1162.7), '<->')
arrow((X9(1016), 1205.7), (X9(1145), 1205.7), '<->')
arrow((X10(361), 925.7), (X10(361), 983), '<->')
arrow((X10(369), 1109), (X10(369), 1167.3))
arrow((X10(171), 1205.7), (X10(30), 1205.7))
arrow((X10(727), 1205.3), (X10(540), 1205.3))
arrow((X9(618), 1060.7), (X9(618), 1100), col='#00B050', lw=1.3)
arrow((X9(618), 1282), (X9(618), 1242.7), col='#FF0000', lw=1.3)

# chemical structures: polylines, double bonds and atom labels in crop coordinates
def mol(fx, oy, chains, doubles, labels, code):
    f = lambda p: (fx(p[0]), oy + p[1]/3)
    for ch in chains:
        pts = [f(p) for p in ch]
        ov.plot(*zip(*pts), color='#333333', lw=0.8)
    for a, b in doubles:
        pa, pb = f(a), f(b)
        d = np.array(pb) - np.array(pa)
        n = np.array([-d[1], d[0]]) / np.hypot(*d) * 1.0
        for sgn in (-1, 1):
            ov.plot([pa[0]+sgn*n[0], pb[0]+sgn*n[0]], [pa[1]+sgn*n[1], pb[1]+sgn*n[1]], color='#333333', lw=0.7)
    for (x, y), s in labels:
        X, Y = f((x, y))
        T(X, Y-1.2, s, size=8, ha='center', color='#222222')
    X, Y = f(code[0])
    T(X, Y-1.2, code[1], size=6.4, ha='center', color='#444444')

mol(X9, 800, [[(268,130),(293,120),(322,143),(350,127)]], [((293,120),(293,88)), ((322,143),(322,175))],
    [((241,143),"H$_3$C"), ((293,72),"O"), ((369,120),"OH"), ((326,190),"O")], ((256,238),"C00022"))
mol(X9, 800, [[(738,122),(765,138),(795,115),(825,138),(855,115),(878,130)], [(795,115),(795,83)]],
    [((855,115),(855,83)), ((765,138),(765,170))],
    [((722,113),"HO"), ((801,67),"OH"), ((853,67),"O"), ((893,137),"OH"), ((762,184),"O")], ((740,231),"C00711"))
mol(X9, 800, [[(1305,142),(1327,155),(1356,135),(1385,155),(1414,135),(1436,150)]],
    [((1327,155),(1327,187)), ((1385,155),(1385,187)), ((1414,135),(1414,105))],
    [((1289,135),"HO"), ((1413,90),"O"), ((1452,156),"OH"), ((1326,202),"O"), ((1385,202),"O")], ((1307,247),"C00036"))
mol(X9, 800, [[(733,667),(753,655),(785,677),(815,655),(843,677),(862,662)], [(790,675),(812,660)]],
    [((753,655),(753,620)), ((843,677),(843,707))],
    [((753,604),"O"), ((714,675),"HO"), ((880,652),"OH"), ((842,722),"O")], ((732,770),"C00122"))
mol(X9, 800, [[(735,1198),(757,1185),(788,1208),(818,1185),(845,1208),(865,1193)]],
    [((757,1185),(757,1155)), ((845,1208),(845,1238))],
    [((757,1140),"O"), ((718,1207),"HO"), ((882,1185),"OH"), ((844,1252),"O")], ((737,1297),"C00042"))
mol(X9, 800, [[(1256,1185),(1277,1198),(1306,1178),(1336,1200),(1365,1178),(1390,1195)]],
    [((1277,1198),(1277,1235)), ((1365,1178),(1365,1147))],
    [((1238,1178),"HO"), ((1365,1130),"O"), ((1430,1203),"S−CoA"), ((1277,1252),"O")], ((1256,1301),"C00091"))
mol(X10, 800, [[(282,165),(302,153),(330,175),(358,155),(385,175),(413,155),(432,168)], [(358,155),(358,115),(375,95)], [(358,155),(366,188)]],
    [((358,115),(335,97)), ((302,153),(302,125)), ((413,155),(413,130))],
    [((330,85),"O"), ((393,85),"OH"), ((300,110),"O"), ((413,115),"O"), ((265,174),"HO"), ((448,174),"OH"), ((373,201),"OH")],
    ((282,245),"C00158"))
mol(X10, 800, [[(395,598),(370,612),(370,657),(340,678),(310,657),(300,628)], [(370,657),(403,678),(425,665)], [(403,678),(403,720),(383,735)]],
    [((370,612),(348,598)), ((310,657),(283,672)), ((403,720),(425,735))],
    [((338,590),"O"), ((415,590),"OH"), ((295,612),"HO"), ((447,656),"OH"), ((270,677),"O"), ((360,742),"HO"), ((437,742),"O")],
    ((298,787),"C00311"))
mol(X10, 800, [[(296,1208),(315,1195),(345,1218),(373,1197),(400,1218),(428,1197),(448,1210)]],
    [((315,1195),(315,1167)), ((400,1218),(400,1250)), ((428,1197),(428,1167))],
    [((315,1152),"O"), ((427,1152),"O"), ((279,1218),"HO"), ((462,1218),"OH"), ((399,1264),"O")], ((296,1309),"C00026"))
mol(X10, 800, [[(818,1177),(837,1165),(866,1183),(895,1163),(922,1183),(950,1163),(970,1175)], [(866,1183),(866,1210)]],
    [((837,1165),(837,1133)), ((950,1163),(950,1130))],
    [((837,1118),"O"), ((948,1114),"O"), ((800,1186),"HO"), ((985,1178),"OH"), ((878,1228),"NH$_2$")], ((818,1273),"C00217"))

fig.savefig("out.png", dpi=DPI, facecolor='white')
